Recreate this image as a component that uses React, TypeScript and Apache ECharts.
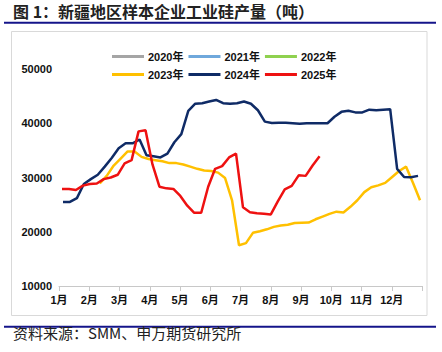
import React, { useEffect, useRef } from "react";
import * as echarts from "echarts";

const monthLabels = ["1月", "2月", "3月", "4月", "5月", "6月", "7月", "8月", "9月", "10月", "11月", "12月"];
const legendRow1 = ["2020年", "2021年", "2022年"];
const legendRow2 = ["2023年", "2024年", "2025年"];
const yMin = 10000;
const yMax = 50000;
const yStep = 10000;

// day-of-year of the first plotted weekly observation for each year
const start2023 = 41;
const start2024 = 4;
const start2025 = 3;

const v2023 = [
  28900, 30300, 32200, 33500, 34800, 34800, 33800, 33400, 33200, 33000,
  32650, 32650, 32400, 32000, 31600, 31300, 31200, 30900, 29900, 25800,
  17500, 17900, 19800, 20100, 20450, 20900, 21150, 21300, 21600, 21650,
  21700, 22300, 22800, 23300, 23700, 23550, 24600, 25800, 27300, 28200,
  28550, 29000, 30100, 31200, 32000, 29000, 25800,
];
const v2024 = [
  25500, 25500, 26200, 28800, 29700, 30500, 32000, 33600, 35400, 36300,
  36300, 37000, 34100, 33900, 33700, 34400, 36500, 38000, 42300, 43600,
  43700, 44000, 44300, 43700, 43600, 43700, 44000, 43600, 42400, 40300,
  40050, 40100, 40100, 40000, 39900, 40000, 40000, 40000, 40000, 41200,
  42100, 42300, 42000, 42000, 42500, 42400, 42500, 42600, 31600, 30100,
  30050, 30300,
];
const v2025 = [
  27900, 27900, 27700, 28500, 28800, 28900, 29700, 30000, 30500, 32600,
  33200, 38500, 38700, 32400, 28300, 28000, 27900, 26600, 24800, 23500,
  23500, 28300, 31600, 32100, 33700, 34400, 24500, 23600, 23400, 23300,
  23200, 25600, 27800, 28450, 30400, 30300, 32200, 33900,
];

const colors: Record<string, string> = {
  "2020年": "#a5a5a5",
  "2021年": "#6fa8dc",
  "2022年": "#8fd14f",
  "2023年": "#ffc000",
  "2024年": "#0f2b66",
  "2025年": "#ee1111",
};

const daysPerMonth = 365 / 12;
function toPoints(startDay: number, values: number[]) {
  return values.map((v, i) => [(startDay + 7 * i) / daysPerMonth, v]);
}

const FONT = "'Liberation Sans', 'Noto Sans CJK SC', sans-serif";
const CJK = "'Noto Sans CJK SC', sans-serif";

export default function App() {
  const ref = useRef<HTMLDivElement>(null);
  useEffect(() => {
    if (!ref.current) return;
    const chart = echarts.init(ref.current, undefined, { renderer: "svg" });
    const seriesData: Record<string, number[][]> = {
      "2020年": [],
      "2021年": [],
      "2022年": [],
      "2023年": toPoints(start2023, v2023),
      "2024年": toPoints(start2024, v2024),
      "2025年": toPoints(start2025, v2025),
    };
    const names = [...legendRow1, ...legendRow2];
    const legendBase = {
      icon: "rect",
      itemWidth: 32,
      itemHeight: 3,
      itemGap: 5,
      orient: "horizontal" as const,
      left: 107,
      textStyle: { fontSize: 11, fontWeight: "bold" as const, color: "#111", fontFamily: FONT, padding: [0, 0, 0, -1] },
      selectedMode: false,
    };
    chart.setOption({
      animation: false,
      backgroundColor: "#fff",
      color: names.map((n) => colors[n]),
      legend: [
        { ...legendBase, top: 46, data: legendRow1 },
        { ...legendBase, top: 64, data: legendRow2 },
      ],
      grid: { left: 59, right: 20, top: 69, bottom: 66, containLabel: false },
      xAxis: {
        type: "value",
        min: 0,
        max: 12,
        interval: 1,
        axisLine: { show: true, lineStyle: { color: "#c8c8c8", width: 1 } },
        axisTick: { show: true, length: 5, lineStyle: { color: "#c8c8c8" } },
        splitLine: { show: false },
        axisLabel: {
          margin: 8,
          fontSize: 11,
          fontWeight: "bold",
          color: "#111",
          fontFamily: FONT,
          formatter: (v: number) => (v < 12 ? monthLabels[Math.round(v)] : ""),
        },
      },
      yAxis: {
        type: "value",
        min: yMin,
        max: yMax,
        interval: yStep,
        axisLine: { show: false },
        axisTick: { show: false },
        splitLine: { show: false },
        axisLabel: {
          margin: 7,
          fontSize: 11,
          fontWeight: "bold",
          color: "#111",
          fontFamily: FONT,
          formatter: (v: number) => String(v),
        },
      },
      series: names.map((n) => ({
        name: n,
        type: "line",
        data: seriesData[n],
        showSymbol: false,
        symbol: "none",
        lineStyle: { width: 2.5, color: colors[n] },
        itemStyle: { color: colors[n] },
        connectNulls: false,
      })),
      graphic: [
        {
          type: "text",
          left: 13,
          top: 3,
          style: { text: "图 1：新疆地区样本企业工业硅产量（吨）", fontSize: 16, fontWeight: "bold", fill: "#222", fontFamily: CJK },
        },
        { type: "line", shape: { x1: 4, y1: 22.7, x2: 436, y2: 22.7 }, style: { stroke: "#14148a", lineWidth: 2 } },
        { type: "rect", z: -10, shape: { x: 11.5, y: 31.5, width: 415.5, height: 284 }, style: { fill: "none", stroke: "#d9d9d9", lineWidth: 1 } },
        { type: "line", shape: { x1: 4, y1: 326.7, x2: 436, y2: 326.7 }, style: { stroke: "#14148a", lineWidth: 2 } },
        {
          type: "text",
          left: 13,
          top: 325,
          style: { text: "资料来源：SMM、申万期货研究所", fontSize: 15, fill: "#222", fontFamily: CJK },
        },
      ],
    });
    return () => chart.dispose();
  }, []);
  return <div ref={ref} style={{ position: "absolute", left: 0, top: 0, width: 442, height: 352 }} />;
}
